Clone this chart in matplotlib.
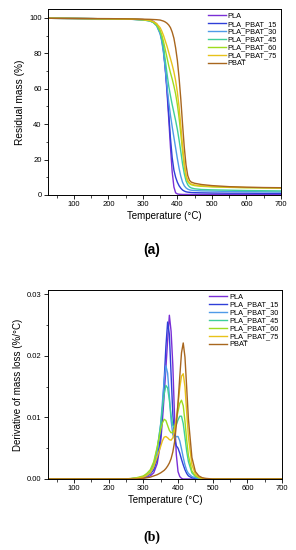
import matplotlib
matplotlib.use('Agg')
import matplotlib.pyplot as plt
from matplotlib.ticker import MultipleLocator, FormatStrFormatter

plt.rcParams['font.family'] = ['Liberation Sans', 'DejaVu Sans']

# Series names and colours
labels = ['PLA', 'PLA_PBAT_15', 'PLA_PBAT_30', 'PLA_PBAT_45',
          'PLA_PBAT_60', 'PLA_PBAT_75', 'PBAT']
colors = ['#7a2fd6', '#2f3fd8', '#4f9be8', '#3fcf9a',
          '#9edc1e', '#e8c21a', '#a8661e']

# (a) residual mass (%) vs temperature
tg_temp = [25, 100, 200, 250, 300, 320, 330, 340, 350, 355, 360, 365, 370, 375,
           380, 385, 390, 395, 400, 405, 410, 415, 420, 425, 430, 435, 440, 450,
           470, 500, 550, 600, 650, 700]
tg_pla = [99.8, 99.7, 99.5, 99.4, 99.1, 98.7, 98.1, 96.6, 92.5, 88.5, 82.5, 71, 58, 43,
          27, 13, 4.5, 1.2, 0.6, 0.4, 0.35, 0.3, 0.3, 0.3, 0.3, 0.3, 0.3, 0.3,
          0.3, 0.3, 0.3, 0.3, 0.25, 0.2]
tg_15 = [99.8, 99.7, 99.5, 99.4, 99.0, 98.5, 97.8, 96.0, 91.5, 87.5, 81, 72, 60, 46,
         32, 21, 14, 10, 7.2, 5.2, 3.8, 2.8, 2.2, 1.8, 1.6, 1.5, 1.4, 1.3,
         1.2, 1.1, 1.0, 1.0, 0.9, 0.9]
tg_30 = [99.8, 99.7, 99.5, 99.4, 98.9, 98.3, 97.4, 95.5, 91, 86.5, 80, 71, 61, 52.5,
         45, 38.5, 32.5, 26.5, 20.5, 15, 10.5, 7.2, 5.2, 4.0, 3.3, 2.9, 2.7, 2.5,
         2.3, 2.2, 2.0, 1.9, 1.8, 1.7]
tg_45 = [99.8, 99.7, 99.5, 99.4, 98.9, 98.3, 97.5, 95.8, 92, 88.5, 83, 76, 68.5, 61.5,
         56, 51, 46.5, 42, 37, 31, 24.5, 17.5, 12, 8, 5.8, 4.6, 4.0, 3.5,
         3.1, 2.9, 2.7, 2.5, 2.4, 2.3]
tg_60 = [99.8, 99.7, 99.5, 99.4, 99.0, 98.4, 97.6, 96.0, 92.8, 90.2, 86.5, 82, 77.5, 73,
         69, 65.5, 61.5, 57, 51, 43.5, 34.5, 25, 16.5, 10.5, 7.6, 6.4, 5.8, 5.3,
         4.9, 4.6, 4.3, 4.1, 4.0, 3.9]
tg_75 = [99.8, 99.7, 99.5, 99.4, 99.1, 98.6, 98.0, 96.8, 94.5, 92.5, 90, 87, 84, 80.5,
         77, 73.5, 69.5, 64.5, 58, 49.5, 39, 27.5, 17.5, 11, 8, 6.8, 6.2, 5.6,
         5.1, 4.8, 4.4, 4.2, 4.1, 4.0]
tg_pbat = [99.8, 99.7, 99.6, 99.5, 99.3, 99.2, 99.1, 99.0, 98.8, 98.5, 98.2, 97.7, 97, 96,
           94.5, 92, 88.5, 83, 76, 66, 54, 40, 27, 17, 11, 8.3, 7.3, 6.6,
           5.9, 5.3, 4.7, 4.4, 4.2, 4.1]

# (b) derivative of mass loss vs temperature
dtg_temp = [25, 100, 200, 250, 280, 300, 310, 320, 330, 340, 350, 355, 360, 365, 370,
            375, 380, 385, 390, 395, 400, 405, 410, 415, 420, 425, 430, 440, 450,
            460, 470, 480, 500, 550, 600, 650, 700]
dtg_pla = [0, 0, 0, 0, 0.0001, 0.0002, 0.0003, 0.0005, 0.001, 0.0025, 0.006, 0.0095,
           0.0135, 0.018, 0.0225, 0.0266, 0.024, 0.0185, 0.01, 0.004, 0.0012, 0.0004,
           0.0001, 0, 0, 0, 0, 0, 0, 0, 0, 0, 0, 0, 0, 0, 0]
dtg_15 = [0, 0, 0, 0, 0.0001, 0.0003, 0.0005, 0.0008, 0.0015, 0.0032, 0.007, 0.011,
          0.016, 0.0215, 0.0255, 0.0235, 0.017, 0.0105, 0.0066, 0.0054, 0.005, 0.0042,
          0.0032, 0.0023, 0.0015, 0.0009, 0.0005, 0.0002, 0.0001, 0, 0, 0, 0, 0, 0, 0, 0]
dtg_30 = [0, 0, 0, 0, 0.0001, 0.0003, 0.0006, 0.001, 0.002, 0.0045, 0.009, 0.0125,
          0.016, 0.0184, 0.0172, 0.0135, 0.0095, 0.0072, 0.0066, 0.0069, 0.0069, 0.0062,
          0.0049, 0.0035, 0.0023, 0.0014, 0.0009, 0.0004, 0.0002, 0.0001, 0, 0, 0, 0, 0, 0, 0]
dtg_45 = [0, 0, 0, 0, 0.0001, 0.0004, 0.0007, 0.0012, 0.0025, 0.005, 0.0088, 0.0115,
          0.0138, 0.0152, 0.0148, 0.0128, 0.0103, 0.0087, 0.0083, 0.0088, 0.0096, 0.0102,
          0.0102, 0.009, 0.0068, 0.0045, 0.0028, 0.001, 0.0004, 0.0002, 0.0001, 0, 0, 0, 0, 0, 0]
dtg_60 = [0, 0, 0, 0, 0.0002, 0.0005, 0.0009, 0.0015, 0.0028, 0.0052, 0.008, 0.0091,
          0.0097, 0.0095, 0.0087, 0.0079, 0.0075, 0.0076, 0.0083, 0.0096, 0.011, 0.0123,
          0.0128, 0.0119, 0.0094, 0.0063, 0.0038, 0.0013, 0.0005, 0.0002, 0.0001, 0, 0, 0, 0, 0, 0]
dtg_75 = [0, 0, 0, 0, 0.0001, 0.0003, 0.0006, 0.001, 0.002, 0.0036, 0.0053, 0.0062,
          0.0068, 0.0069, 0.0067, 0.0064, 0.0063, 0.0067, 0.0078, 0.0096, 0.0121, 0.0148,
          0.0167, 0.0171, 0.015, 0.0108, 0.0068, 0.0023, 0.0008, 0.0003, 0.0001, 0, 0, 0, 0, 0, 0]
dtg_pbat = [0, 0, 0, 0, 0, 0.0001, 0.0002, 0.0003, 0.0005, 0.0007, 0.001, 0.0012,
            0.0014, 0.0017, 0.0021, 0.0026, 0.0033, 0.0044, 0.006, 0.0087, 0.0124, 0.0166,
            0.0205, 0.0221, 0.0198, 0.0148, 0.0097, 0.0035, 0.0012, 0.0005, 0.0002, 0.0001,
            0, 0, 0, 0, 0]

tg_all = [tg_pla, tg_15, tg_30, tg_45, tg_60, tg_75, tg_pbat]
dtg_all = [dtg_pla, dtg_15, dtg_30, dtg_45, dtg_60, dtg_75, dtg_pbat]

fig = plt.figure(figsize=(2.96, 5.5), dpi=100)
ax1 = fig.add_axes([0.162, 0.6455, 0.787, 0.338])
ax2 = fig.add_axes([0.162, 0.1291, 0.791, 0.3436])

for ys, lab, c in zip(tg_all, labels, colors):
    ax1.plot(tg_temp, ys, color=c, lw=1.0, label=lab)
for ys, lab, c in zip(dtg_all, labels, colors):
    ax2.plot(dtg_temp, ys, color=c, lw=1.0, label=lab)

ax1.set_xlim(25, 700)
ax1.set_ylim(0, 105)
ax1.yaxis.set_major_locator(MultipleLocator(20))
ax1.yaxis.set_minor_locator(MultipleLocator(10))
ax1.set_ylabel('Residual mass (%)', fontsize=7.3, labelpad=3)

ax2.set_xlim(25, 700)
ax2.set_ylim(0, 0.0307)
ax2.yaxis.set_major_locator(MultipleLocator(0.01))
ax2.yaxis.set_minor_locator(MultipleLocator(0.005))
ax2.yaxis.set_major_formatter(FormatStrFormatter('%.2f'))
ax2.set_ylabel('Derivative of mass loss (%/\u00b0C)', fontsize=7, labelpad=3)

for ax in (ax1, ax2):
    ax.xaxis.set_major_locator(MultipleLocator(100))
    ax.xaxis.set_minor_locator(MultipleLocator(50))
    ax.set_xlabel('Temperature (\u00b0C)', fontsize=7, labelpad=2)
    ax.tick_params(which='major', direction='out', length=3, width=0.6,
                   labelsize=5.5, pad=1.5)
    ax.tick_params(which='minor', direction='out', length=1.8, width=0.5)
    for s in ax.spines.values():
        s.set_linewidth(0.7)
    ax.legend(loc='upper right', frameon=False, fontsize=5.3, handlelength=2.4,
              handletextpad=0.3, labelspacing=0.1, borderaxespad=0.3,
              borderpad=0.2)

fig.text(0.513, 0.545, '(a)', ha='center', va='center', fontsize=10,
         fontweight='bold', family=['Liberation Sans', 'DejaVu Sans'])
fig.text(0.513, 0.024, '(b)', ha='center', va='center', fontsize=10,
         fontweight='bold', family=['Liberation Serif', 'DejaVu Serif'])

fig.savefig('out.png', dpi=100)
